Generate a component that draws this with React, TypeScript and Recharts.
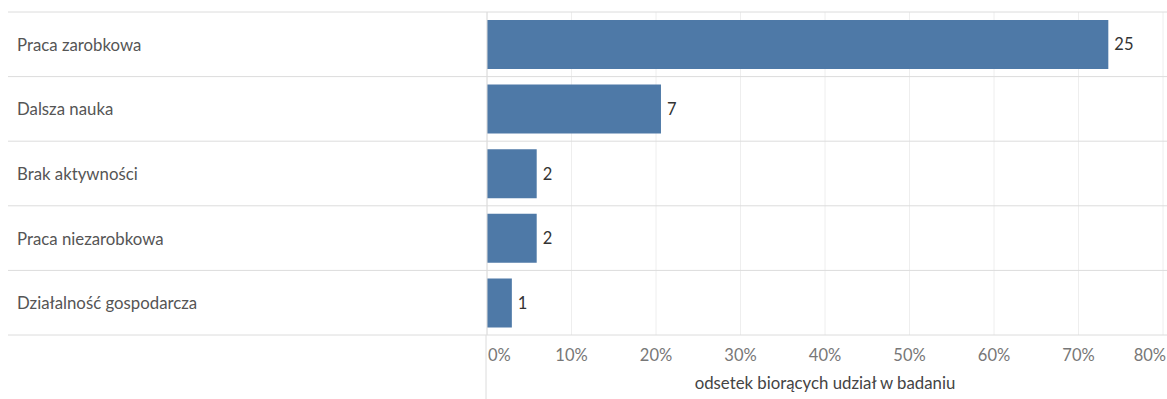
import React from "react";
import { BarChart, Bar, XAxis, YAxis, CartesianGrid, LabelList } from "recharts";

const categories = [
  "Praca zarobkowa",
  "Dalsza nauka",
  "Brak aktywności",
  "Praca niezarobkowa",
  "Działalność gospodarcza",
];
const counts = [25, 7, 2, 2, 1];
const totalRespondents = 34;
const xTicks = [0, 0.1, 0.2, 0.3, 0.4, 0.5, 0.6, 0.7, 0.8];
const axisTitle = "odsetek biorących udział w badaniu";

const data = categories.map((name, i) => ({
  name,
  count: counts[i],
  share: counts[i] / totalRespondents,
}));

const W = 1167;
const H = 399;
const MARGIN = { top: 12, right: 4, bottom: 0, left: 8 };
const Y_W = 479;
const X_H = 64;
const PLOT_H = H - MARGIN.top - MARGIN.bottom - X_H;
const FONT = "Lato, 'Noto Sans', sans-serif";
const LINE = "#dcdcdc";
const FS = 16.8;

const YTick = (props: any) => {
  const { y, payload, index } = props;
  const half =
    payload && typeof payload.offset === "number" && payload.offset > 0
      ? payload.offset
      : PLOT_H / categories.length / 2;
  return (
    <g>
      <line x1={MARGIN.left} x2={W} y1={y - half} y2={y - half} stroke={LINE} strokeWidth={1} />
      {index === categories.length - 1 && (
        <line x1={MARGIN.left} x2={W} y1={y + half} y2={y + half} stroke={LINE} strokeWidth={1} />
      )}
      <text
        x={MARGIN.left + 9}
        y={y}
        dominantBaseline="central"
        textAnchor="start"
        fill="#555"
        fontSize={FS}
        fontFamily={FONT}
      >
        {payload.value}
      </text>
    </g>
  );
};

const TICK_MARGIN = 20;
const XTick = (props: any) => {
  const { x, y, payload, index } = props;
  const plotBottom = y - TICK_MARGIN;
  const last = index === xTicks.length - 1;
  return (
    <g>
      {index === 0 && (
        <line x1={x - 1} x2={x - 1} y1={plotBottom} y2={H} stroke={LINE} strokeWidth={1} />
      )}
      <text
        x={index === 0 ? x + 1 : last ? x + 3 : x}
        y={y}
        dominantBaseline="central"
        textAnchor={index === 0 ? "start" : last ? "end" : "middle"}
        fill="#777"
        fontSize={16.5}
        fontFamily={FONT}
      >
        {Math.round(payload.value * 100) + "%"}
      </text>
    </g>
  );
};

export default function App() {
  return (
    <div style={{ position: "absolute", left: 0, top: 0, width: W, height: H }}>
      <BarChart
        width={W}
        height={H}
        data={data}
        layout="vertical"
        margin={MARGIN}
        style={{ fontFamily: FONT }}
      >
        <CartesianGrid horizontal={false} vertical stroke="#eeeeee" />
        <XAxis
          type="number"
          domain={[0, 0.8]}
          ticks={xTicks}
          interval={0}
          axisLine={false}
          tickLine={false}
          tickSize={0}
          tickMargin={TICK_MARGIN}
          height={X_H}
          tick={<XTick />}
          label={{
            value: axisTitle,
            position: "insideBottom",
            offset: 10,
            fill: "#444",
            fontSize: FS,
            fontFamily: FONT,
          }}
        />
        <YAxis
          type="category"
          dataKey="name"
          width={Y_W}
          axisLine={{ stroke: LINE }}
          tickLine={false}
          tick={<YTick />}
          interval={0}
        />
        <Bar dataKey="share" fill="#4e79a7" barSize={49} isAnimationActive={false}>
          <LabelList
            dataKey="count"
            position="right"
            offset={6}
            fill="#333"
            fontSize={16.5}
            fontFamily={FONT}
          />
        </Bar>
      </BarChart>
    </div>
  );
}
